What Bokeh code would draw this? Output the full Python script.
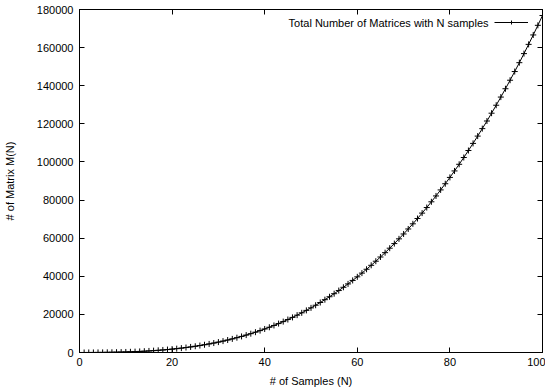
from bokeh.plotting import figure
from bokeh.models import (FixedTicker, LinearAxis, Legend, LegendItem, Label, Range1d,
                          BasicTickFormatter)
from bokeh.embed import file_html
from bokeh.resources import INLINE

samples = list(range(0, 101))
matrices = [
    1, 4, 10, 20, 35, 56, 84, 120, 165, 220,
    286, 364, 455, 560, 680, 816, 969, 1140, 1330, 1540,
    1771, 2024, 2300, 2600, 2925, 3276, 3654, 4060, 4495, 4960,
    5456, 5984, 6545, 7140, 7770, 8436, 9139, 9880, 10660, 11480,
    12341, 13244, 14190, 15180, 16215, 17296, 18424, 19600, 20825, 22100,
    23426, 24804, 26235, 27720, 29260, 30856, 32509, 34220, 35990, 37820,
    39711, 41664, 43680, 45760, 47905, 50116, 52394, 54740, 57155, 59640,
    62196, 64824, 67525, 70300, 73150, 76076, 79079, 82160, 85320, 88560,
    91881, 95284, 98770, 102340, 105995, 109736, 113564, 117480, 121485, 125580,
    129766, 134044, 138415, 142880, 147440, 152096, 156849, 161700, 166650, 171700,
    176851,
]
x_ticks = [0, 20, 40, 60, 80, 100]
y_ticks = [0, 20000, 40000, 60000, 80000, 100000, 120000, 140000, 160000, 180000]
legend_text = "Total Number of Matrices with N samples"

FONT = "Liberation Sans"
FS = "11px"

p = figure(width=545, height=389, output_backend="svg", toolbar_location=None,
           x_range=Range1d(0, 100), y_range=Range1d(0, 180000),
           min_border_left=78, min_border_right=3, min_border_top=9, min_border_bottom=37)
p.grid.visible = False
p.outline_line_color = "black"
p.outline_line_width = 1
p.background_fill_color = "white"
p.border_fill_color = "white"

for ax, ticks in ((p.xaxis[0], x_ticks), (p.yaxis[0], y_ticks)):
    ax.ticker = FixedTicker(ticks=ticks)
    ax.formatter = BasicTickFormatter(use_scientific=False)
    ax.major_tick_in = 5
    ax.major_tick_out = 0
    ax.minor_tick_in = 0
    ax.minor_tick_out = 0
    ax.axis_line_color = "black"
    ax.major_tick_line_color = "black"
    ax.major_label_text_font = FONT
    ax.major_label_text_font_size = FS
    ax.major_label_text_color = "black"
    ax.axis_label_text_font = FONT
    ax.axis_label_text_font_size = FS
    ax.axis_label_text_font_style = "normal"
    ax.axis_label_text_color = "black"

p.xaxis[0].axis_label = "# of Samples (N)"
p.yaxis[0].axis_label = "# of Matrix M(N)"
p.xaxis[0].major_label_standoff = 5
p.yaxis[0].major_label_standoff = 6
p.xaxis[0].axis_label_standoff = 6
p.yaxis[0].axis_label_standoff = 18

for loc, ticks in (("right", y_ticks), ("above", x_ticks)):
    ax = LinearAxis(ticker=FixedTicker(ticks=ticks), major_tick_in=5, major_tick_out=0,
                    minor_tick_in=0, minor_tick_out=0, major_label_text_font_size="0px",
                    major_label_standoff=0, axis_line_color="black",
                    major_tick_line_color="black")
    ax.major_label_overrides = {t: "" for t in ticks}
    p.add_layout(ax, loc)

ln = p.line(samples, matrices, line_color="black", line_width=1)
mk = p.scatter(samples, matrices, marker="cross", size=6, line_color="black", line_width=1)

legend = Legend(items=[LegendItem(label=" ", renderers=[ln, mk])],
                location=(415, 325), border_line_alpha=0, background_fill_alpha=0,
                glyph_width=34, glyph_height=10, label_width=0, padding=0, margin=0,
                label_standoff=0, label_text_font_size="1px")
p.add_layout(legend)

p.add_layout(Label(x=409, y=330, x_units="screen", y_units="screen", text=legend_text,
                   text_align="right", text_baseline="middle", text_font=FONT,
                   text_font_size=FS, text_color="black"))

open("out.html", "w").write(file_html(p, INLINE))
